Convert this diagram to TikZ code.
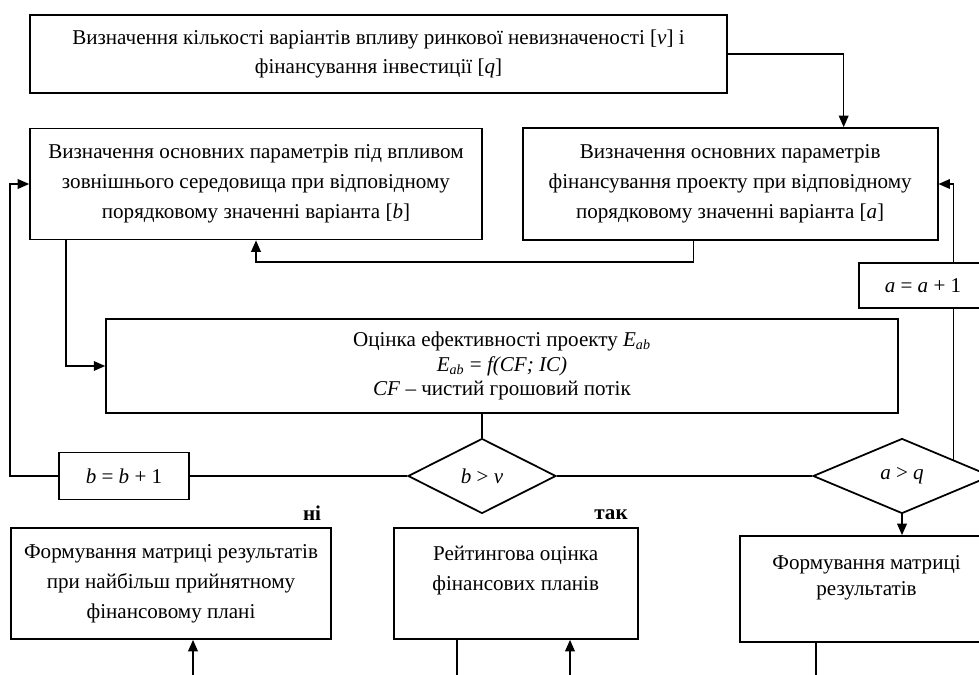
\documentclass[tikz,border=0pt]{standalone}
\usepackage{fontspec}
\setmainfont{Liberation Serif}
\usetikzlibrary{arrows.meta,positioning,shapes.geometric,calc}

\begin{document}
\begin{tikzpicture}[
    x=0.02cm, y=-0.02cm,
    node distance=0.6cm and 0.78cm,
    box/.style={rectangle, draw, line width=1pt, inner sep=2pt, align=center, font=\fontsize{12}{17}\selectfont},
    cond/.style={diamond, draw, line width=1pt, inner sep=0pt, minimum height=1.5cm, font=\fontsize{12}{14}\selectfont},
    answer/.style={inner sep=0pt, font=\fontsize{12}{14}\selectfont\bfseries},
    arrow/.style={-{Triangle[length=6.5pt,width=5.5pt]}, line width=0.8pt},
    link/.style={line width=0.8pt},
  ]
  \useasboundingbox (0,0) rectangle (979,675);

  % Number of variants
  \node[box, minimum width=13.94cm, minimum height=1.56cm, font=\fontsize{12}{16.5}\selectfont] (count) at (378.5,54)
    {Визначення кількості варіантів впливу ринкової невизначеності [\textit{v}] і\\ фінансування інвестиції [\textit{q}]};

  % Parameters
  \node[box, minimum width=9.04cm, minimum height=2.22cm] (envpar) at (256,184)
    {Визначення основних параметрів під впливом\\ зовнішнього середовища при відповідному\\ порядковому значенні варіанта [\textit{b}]};
  \node[box, minimum width=8.3cm, minimum height=2.24cm, right=of envpar] (finpar)
    {Визначення основних параметрів\\ фінансування проекту при відповідному\\ порядковому значенні варіанта [\textit{a}]};

  % Counter a
  \node[box, minimum width=2.56cm, minimum height=0.9cm] (aplus) at (923,285.5) {\textit{a} = \textit{a} + 1};

  % Efficiency
  \node[box, minimum width=15.84cm, minimum height=1.88cm, font=\fontsize{12}{13.9}\selectfont] (eval) at (502,366)
    {Оцінка ефективності проекту \textit{E}\textsubscript{\textit{ab}}\\
     \textit{E}\textsubscript{\textit{ab}} = \textit{f(CF; IC)}\\
     \textit{CF} – чистий грошовий потік};

  % Conditions
  \node[cond, minimum width=2.96cm] (bv) at (482,476) {\textit{b} > \textit{v}};
  \node[cond, minimum width=3.56cm] (aq) at (902,476) {\textit{a} > \textit{q}};
  \node[box, minimum width=2.6cm, minimum height=0.94cm] (bplus) at (124,476) {\textit{b} = \textit{b} + 1};

  % Results
  \node[box, minimum width=6.4cm, minimum height=2.22cm] (resbest) at (171,583.5)
    {Формування матриці результатів\\ при найбільш прийнятному\\ фінансовому плані};
  \node[box, minimum width=4.88cm, minimum height=2.22cm, right=1.22cm of resbest] (rating)
    {Рейтингова оцінка\\ фінансових планів\\ ~};
  \node[box, minimum width=5.06cm, minimum height=2.12cm, font=\fontsize{12}{15}\selectfont] (resmat) at (866.5,589)
    {Формування матриці\\ результатів\\ ~};

  \node[answer] (no) at (312,513) {ні};
  \node[answer] (yes) at (611,515) {так};

  % Loose ends
  \coordinate (aqtop) at ($(aq.north)!0.57!(aq.east)$);
  \coordinate (bestin) at (193,675);
  \coordinate (rateout) at (457,675);
  \coordinate (ratein) at (570,675);
  \coordinate (matout) at (816,675);

  % Arrows
  \draw[arrow] (count.east) -| ($(finpar.north)+(113.5,0)$);
  \draw[arrow] ($(finpar.south)+(-36.5,0)$) -- ++(0,21) -| (envpar.south);
  \draw[arrow] ($(envpar.south west)+(37,0)$) |- (eval.west);
  \draw[link] (bv.north |- eval.south) -- (bv.north);
  \draw[link] (bv.west) -- (bplus.east);
  \draw[arrow] (bplus.west) -- ++(-48,0) |- (envpar.west);
  \draw[link] (bv.east) -- (aq.west);
  \draw[link] (aqtop) -- (aqtop |- aplus.south);
  \draw[arrow] (aqtop |- aplus.north) |- (finpar.east);
  \draw[arrow] (aq.south) -- (aq.south |- resmat.north);
  \draw[arrow] (bestin) -- (bestin |- resbest.south);
  \draw[link] (rateout |- rating.south) -- (rateout);
  \draw[arrow] (ratein) -- (ratein |- rating.south);
  \draw[link] (matout |- resmat.south) -- (matout);
\end{tikzpicture}
\end{document}
